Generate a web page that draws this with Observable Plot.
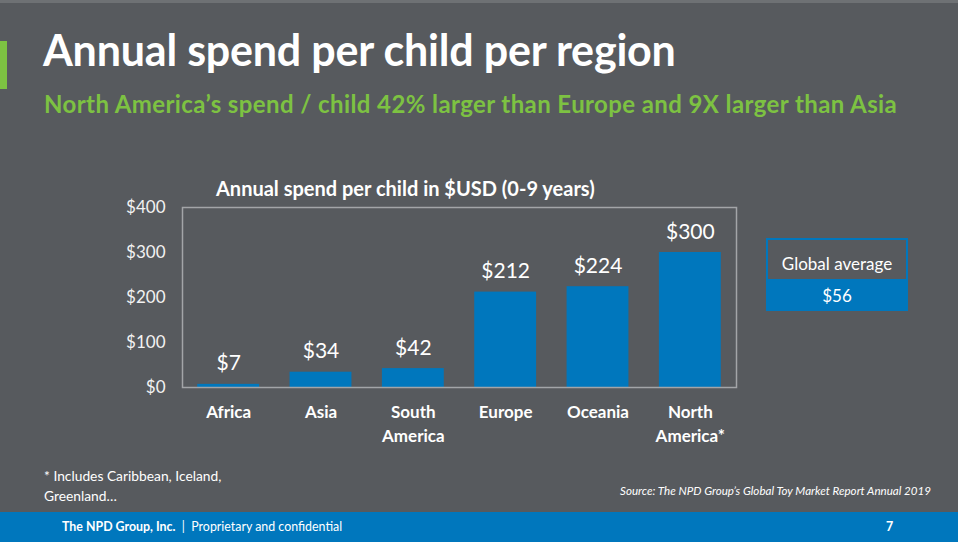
<!DOCTYPE html>
<html><head><meta charset="utf-8">
<script src="https://cdn.jsdelivr.net/npm/d3@7"></script>
<script src="https://cdn.jsdelivr.net/npm/@observablehq/plot@0.6"></script>
<style>
html,body{margin:0;padding:0;}
body{width:958px;height:542px;overflow:hidden;background:#575a5e;font-family:Lato,"Open Sans",sans-serif;position:relative;color:#fff;}
.abs{position:absolute;white-space:nowrap;}
#topline{left:0;top:0;width:958px;height:3px;background:#6e7174;}
#greenbar{left:0;top:41px;width:7px;height:48px;background:#7dc242;}
#title{left:43px;top:24px;font-size:43px;font-weight:700;letter-spacing:-0.2px;}
#subtitle{left:44px;top:89px;font-size:24px;font-weight:700;color:#7dc242;letter-spacing:0.4px;}
#ctitle{left:216px;top:176px;font-size:20px;font-weight:700;}
#chart{left:0;top:170px;}
#gbox{left:766px;top:238px;width:142px;height:41px;border:2px solid #0077bd;border-bottom:none;box-sizing:border-box;font-size:17px;text-align:center;line-height:48px;}
#gval{left:766px;top:279px;width:142px;height:32px;background:#0077bd;font-size:17px;text-align:center;line-height:34px;}
#note{left:44px;top:466px;font-size:13.8px;line-height:20px;}
#source{right:27px;top:484px;font-size:11.6px;font-style:italic;}
#footer{left:0;top:512px;width:958px;height:30px;background:#0077bd;}
#ftext{left:62px;top:519px;font-size:12.4px;}
#fpage{left:886px;top:519px;font-size:12.4px;font-weight:700;}
</style></head>
<body>
<div class="abs" id="topline"></div>
<div class="abs" id="greenbar"></div>
<div class="abs" id="title">Annual spend per child per region</div>
<div class="abs" id="subtitle">North America’s spend / child 42% larger than Europe and 9X larger than Asia</div>
<div class="abs" id="ctitle">Annual spend per child in $USD (0-9 years)</div>
<div class="abs" id="chart"></div>
<div class="abs" id="gbox">Global average</div>
<div class="abs" id="gval">$56</div>
<div class="abs" id="note">* Includes Caribbean, Iceland,<br>Greenland…</div>
<div class="abs" id="source">Source: The NPD Group’s Global Toy Market Report Annual 2019</div>
<div class="abs" id="footer"></div>
<div class="abs" id="ftext"><b>The NPD Group, Inc.</b> &nbsp;|&nbsp; Proprietary and confidential</div>
<div class="abs" id="fpage">7</div>
<script>
const regions = ["Africa","Asia","South America","Europe","Oceania","North America"];
const regionLabels = ["Africa","Asia","South\nAmerica","Europe","Oceania","North\nAmerica*"];
const spend = [7,34,42,212,224,300];
const yTicks = [0,100,200,300,400];

const data = regions.map((r,i)=>({region:r,label:regionLabels[i],value:spend[i]}));
const labelOf = new Map(regions.map((r,i)=>[r,regionLabels[i]]));

const plot = Plot.plot({
  width:958, height:300,
  marginLeft:182, marginRight:222, marginTop:37, marginBottom:83,
  style:{background:"transparent",color:"#fff",fontFamily:"Lato, 'Open Sans', sans-serif",overflow:"visible"},
  x:{domain:regions, paddingInner:0.33, paddingOuter:0.165, round:false, label:null},
  y:{domain:[0,400], label:null},
  marks:[
    Plot.barY(data,{x:"region",y:"value",fill:"#0077bd"}),
    Plot.frame({stroke:"#a3a5a8",strokeWidth:1.5}),
    Plot.axisY({ticks:yTicks,tickSize:0,tickPadding:17,tickFormat:d=>"$"+d,fontSize:17,fill:"#f2f2f2",label:null}),
    Plot.axisX({tickSize:0,tickPadding:14,tickFormat:d=>labelOf.get(d),fontSize:17,fontWeight:"bold",fill:"#fff",lineHeight:1.4,label:null,textAnchor:"middle"}),
    Plot.text(data,{x:"region",y:"value",text:d=>"$"+d.value,dy:-14,lineAnchor:"bottom",fontSize:21,fill:"#fff"})
  ]
});
document.getElementById("chart").appendChild(plot);
</script>
</body></html>
